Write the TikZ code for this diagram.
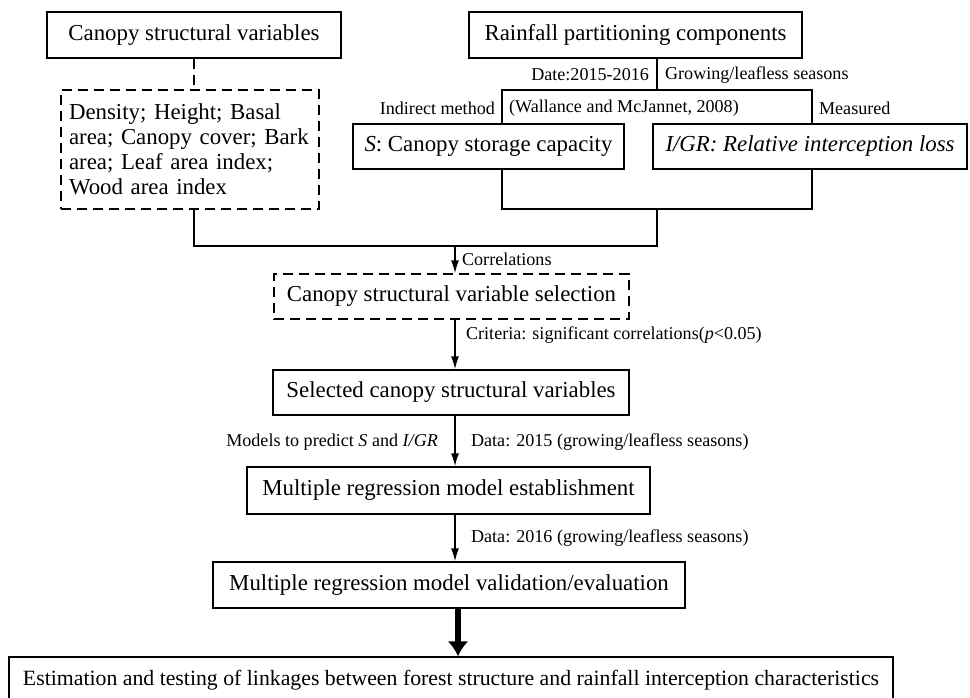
\documentclass[tikz,border=0pt]{standalone}
\usepackage{fontspec}
\setmainfont{Liberation Serif}
\usetikzlibrary{arrows.meta}
\begin{document}
\begin{tikzpicture}[x=0.02cm,y=-0.02cm,
  box/.style={draw,line width=0.8pt,font=\fontsize{13}{14.2}\selectfont,inner sep=0pt},
  dbox/.style={box,dash pattern=on 5.7pt off 3.4pt},
  lbl/.style={font=\fontsize{10.3}{12}\selectfont,inner sep=1pt},
  link/.style={line width=0.8pt},
  arr/.style={line width=0.8pt,-{Latex[length=2.6mm,width=1.6mm]}},
  bigarr/.style={line width=3.5pt,-{Latex[length=3mm,width=4.2mm]}}]
\useasboundingbox (0,0) rectangle (970,697);
\node[box,minimum width=5.88cm,minimum height=0.92cm] (csv) at (194,35) {Canopy structural variables};
\node[dbox,minimum width=5.16cm,minimum height=2.38cm,text width=4.84cm,align=left] (dens) at (190,149.5) {Density; Height; Basal\\area; Canopy cover; Bark\\area; Leaf area index;\\Wood area index};
\node[box,minimum width=6.66cm,minimum height=0.92cm] (rpc) at (635.5,35) {Rainfall partitioning components};
\node[box,minimum width=5.42cm,minimum height=0.9cm] (scap) at (488.5,146.5) {\textit{S}: Canopy storage capacity};
\node[box,minimum width=6.28cm,minimum height=0.9cm] (igr) at (810,146.5) {\textit{I/GR: Relative interception loss}};
\node[dbox,minimum width=7.1cm,minimum height=0.9cm] (sel) at (451.5,296.5) {Canopy structural variable selection};
\node[box,minimum width=7.12cm,minimum height=0.9cm] (scv) at (451,392.5) {Selected canopy structural variables};
\node[box,minimum width=8.06cm,minimum height=0.94cm] (mre) at (448.5,490.5) {Multiple regression model establishment};
\node[box,minimum width=9.44cm,minimum height=0.92cm] (mrv) at (449,585) {Multiple regression model validation/evaluation};
\node[box,minimum width=17.68cm,minimum height=0.92cm] (est) at (451,680) {\fontsize{12.4}{14}\selectfont Estimation and testing of linkages between forest structure and rainfall interception characteristics};
\node[lbl,anchor=east] (ldate) at (651,75) {Date:2015-2016};
\node[lbl,anchor=west] (lseas) at (663,75) {Growing/leafless seasons};
\node[lbl,anchor=east] (lind) at (497,108) {Indirect method};
\node[lbl,anchor=west] (lref) at (507,108) {(Wallance and McJannet, 2008)};
\node[lbl,anchor=west] (lmeas) at (817,108) {Measured};
\node[lbl,anchor=west] (lcor) at (460,259) {Correlations};
\node[lbl,anchor=west] (lcrit) at (464,335) {Criteria: significant correlations(\textit{p}<0.05)};
\node[lbl,anchor=east] (lmod) at (440,442) {Models to predict \textit{S} and \textit{I/GR}};
\node[lbl,anchor=west] (ld15) at (469,442) {Data: 2015 (growing/leafless seasons)};
\node[lbl,anchor=west] (ld16) at (469,538) {Data: 2016 (growing/leafless seasons)};
\coordinate (split) at (657,90);
\coordinate (tl) at (502,90);
\coordinate (tr) at (812,90);
\coordinate (bl) at (502,209);
\coordinate (br) at (812,209);
\coordinate (join) at (657,209);
\coordinate (lft) at (194,246);
\coordinate (rgt) at (657,246);
\coordinate (hub) at (455,246);
\coordinate (thk) at (458,0);
\draw[link,dash pattern=on 5.7pt off 3.4pt] (csv.south) -- (csv.south |- dens.north);
\draw[link] (rpc.south -| split) -- (split);
\draw[link] (scap.north -| tl) -- (tl) -- (tr) -- (igr.north -| tr);
\draw[link] (scap.south -| bl) -- (bl) -- (br) -- (igr.south -| br);
\draw[link] (join) -- (rgt) -- (lft) -- (dens.south -| lft);
\draw[arr] (hub) -- (sel.north -| hub);
\draw[arr] (sel.south -| hub) -- (scv.north -| hub);
\draw[arr] (scv.south -| hub) -- (mre.north -| hub);
\draw[arr] (mre.south -| hub) -- (mrv.north -| hub);
\draw[bigarr] (mrv.south -| thk) -- (est.north -| thk);
\end{tikzpicture}
\end{document}
